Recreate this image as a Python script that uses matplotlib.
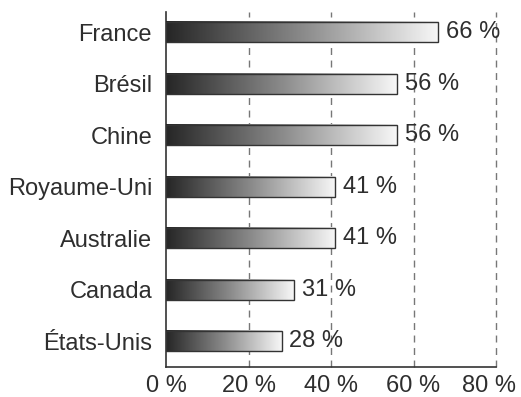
import numpy as np
import matplotlib.pyplot as plt
import matplotlib.transforms as mtransforms
from matplotlib.colors import LinearSegmentedColormap

countries = ["France", "Brésil", "Chine", "Royaume-Uni", "Australie", "Canada", "États-Unis"]
values = [66, 56, 56, 41, 41, 31, 28]
xticks = [0, 20, 40, 60, 80]

txt = "#2e2e2e"
plt.rcParams['font.family'] = ['Liberation Sans', 'DejaVu Sans']
fs = 17

fig = plt.figure(figsize=(5.21, 3.97), dpi=100)
ax = fig.add_axes([166 / 521, 30 / 397, 330 / 521, 355 / 397])

cmap = LinearSegmentedColormap.from_list("grad", ["#262626", "#8a8a8a", "#f7f7f7"])
grad = np.linspace(0, 1, 256).reshape(1, -1)

ypos = np.arange(len(countries))
h = 0.39
for y, v in zip(ypos, values):
    ax.imshow(grad, cmap=cmap, extent=(0, v, y - h / 2, y + h / 2), aspect="auto", zorder=3)
    ax.add_patch(plt.Rectangle((0, y - h / 2), v, h, fill=False, edgecolor="#333333", lw=1.0, zorder=4))
    ax.text(v + 1.9, y, f"{v} %", va="center", ha="left", fontsize=fs, color=txt, zorder=5)

for xt in xticks[1:]:
    ax.axvline(xt, color="#777777", lw=1.0, linestyle=(0, (5, 4)), zorder=1, clip_on=False)

ax.set_xlim(0, 80)
ax.set_ylim(6.5, -0.39)
ax.set_yticks(ypos)
ax.set_yticklabels(countries, fontsize=fs, color=txt)
ax.set_xticks(xticks)
ax.set_xticklabels([f"{t} %" for t in xticks], fontsize=fs, color=txt)
ax.tick_params(length=0)
ax.tick_params(axis="x", pad=6)
ax.tick_params(axis="y", pad=10)
for s in ["top", "right"]:
    ax.spines[s].set_visible(False)
for s in ["left", "bottom"]:
    ax.spines[s].set_color("#333333")
    ax.spines[s].set_linewidth(1.2)

# last x label nudged left so it stays inside the figure
last = ax.get_xticklabels()[-1]
last.set_transform(last.get_transform() + mtransforms.ScaledTranslation(-7 / 100, 0, fig.dpi_scale_trans))

fig.savefig("out.png", dpi=100)
